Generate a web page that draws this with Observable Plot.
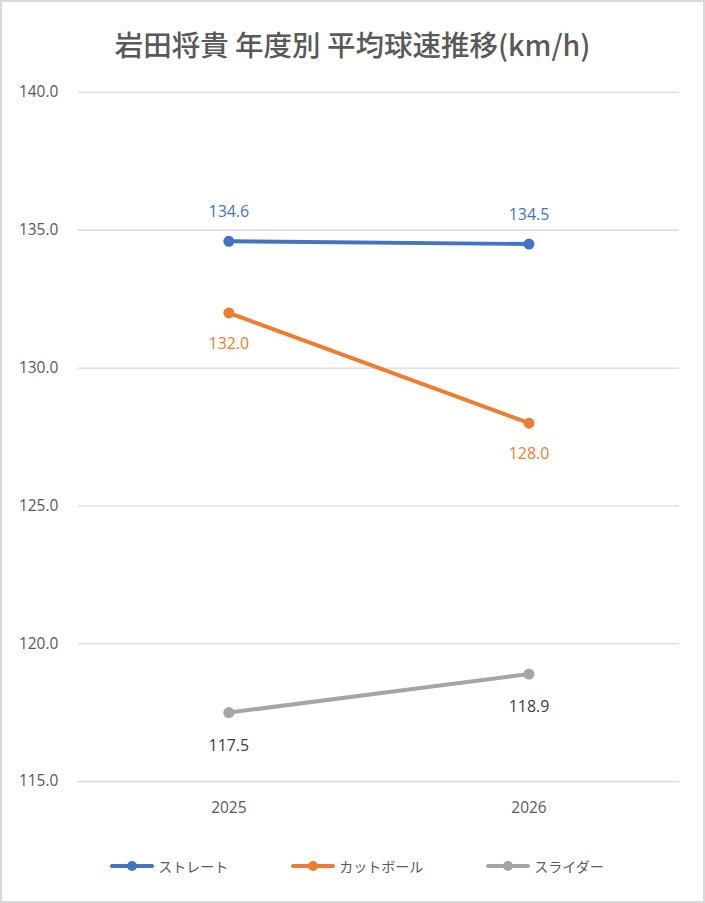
<!DOCTYPE html>
<html>
<head>
<meta charset="utf-8">
<script src="https://cdn.jsdelivr.net/npm/d3@7"></script>
<script src="https://cdn.jsdelivr.net/npm/@observablehq/plot@0.6"></script>
<style>
  html, body { margin: 0; padding: 0; background: #fff; }
  #frame { position: relative; width: 705px; height: 903px; box-sizing: border-box; border: 2px solid #d9d9d9; background: #fff; overflow: hidden; }
  #title { position: absolute; left: -2px; top: 22px; width: 705px; text-align: center; font-family: "Noto Sans CJK JP", sans-serif; font-size: 28.5px; font-weight: 500; color: #595959; line-height: 40px; }
  #chart { position: absolute; left: -2px; top: 78px; }
  #legend { position: absolute; left: 2px; top: 850px; width: 705px; display: flex; justify-content: center; gap: 62px; font-family: "Noto Sans CJK JP", sans-serif; font-size: 14px; color: #595959; line-height: 28px; }
  .item { display: flex; align-items: center; gap: 3px; }
</style>
</head>
<body>
<div id="frame">
  <div id="title"></div>
  <div id="chart"></div>
  <div id="legend"></div>
</div>
<script>
const titleText = "岩田将貴 年度別 平均球速推移(km/h)";
const years = ["2025", "2026"];
const seriesNames = ["ストレート", "カットボール", "スライダー"];
const straightValues = [134.6, 134.5];
const cutterValues = [132.0, 128.0];
const sliderValues = [117.5, 118.9];
const seriesColors = ["#4472C4", "#ED7D31", "#A5A5A5"];
const labelColors = ["#4472C4", "#ED7D31", "#404040"];
const labelOffsets = [-29, 31, 33];
const yTicks = [115, 120, 125, 130, 135, 140];

const valuesBySeries = [straightValues, cutterValues, sliderValues];
const data = [];
seriesNames.forEach((s, i) => {
  years.forEach((y, j) => {
    data.push({ series: s, year: y, value: valuesBySeries[i][j], idx: i });
  });
});

document.getElementById("title").textContent = titleText;

const font = "'Open Sans', 'Noto Sans', sans-serif";

const marks = [
  Plot.ruleY(yTicks, { stroke: "#d9d9d9", strokeWidth: 1.3 }),
  Plot.axisY(yTicks, { tickSize: 0, tickPadding: 20, tickFormat: d => d.toFixed(1), fill: "#595959", fontSize: 15.5, label: null }),
  Plot.axisX({ tickSize: 0, tickPadding: 21, fill: "#595959", fontSize: 15.5, label: null }),
  Plot.line(data, { x: "year", y: "value", z: "series", stroke: "series", strokeWidth: 4, strokeLinecap: "round" }),
  Plot.dot(data, { x: "year", y: "value", fill: "series", r: 5.5, stroke: null })
];
seriesNames.forEach((s, i) => {
  marks.push(Plot.text(data.filter(d => d.series === s), {
    x: "year", y: "value", text: d => d.value.toFixed(1),
    dy: labelOffsets[i], fill: labelColors[i], fontSize: 16, fontWeight: 500, fontFamily: font
  }));
});

const chart = Plot.plot({
  width: 705,
  height: 760,
  marginTop: 12,
  marginBottom: 57,
  marginLeft: 78,
  marginRight: 24,
  style: { fontFamily: font, fontSize: "15.5px", background: "transparent", color: "#595959" },
  x: { type: "point", domain: years, padding: 0.5, label: null },
  y: { domain: [115, 140], label: null },
  color: { domain: seriesNames, range: seriesColors },
  marks
});
document.getElementById("chart").appendChild(chart);

const legend = document.getElementById("legend");
seriesNames.forEach((s, i) => {
  const item = document.createElement("div");
  item.className = "item";
  item.innerHTML = `<svg width="46" height="14"><line x1="3" y1="7" x2="43" y2="7" stroke="${seriesColors[i]}" stroke-width="4" stroke-linecap="round"/><circle cx="23" cy="7" r="5" fill="${seriesColors[i]}"/></svg><span>${s}</span>`;
  legend.appendChild(item);
});
</script>
</body>
</html>
